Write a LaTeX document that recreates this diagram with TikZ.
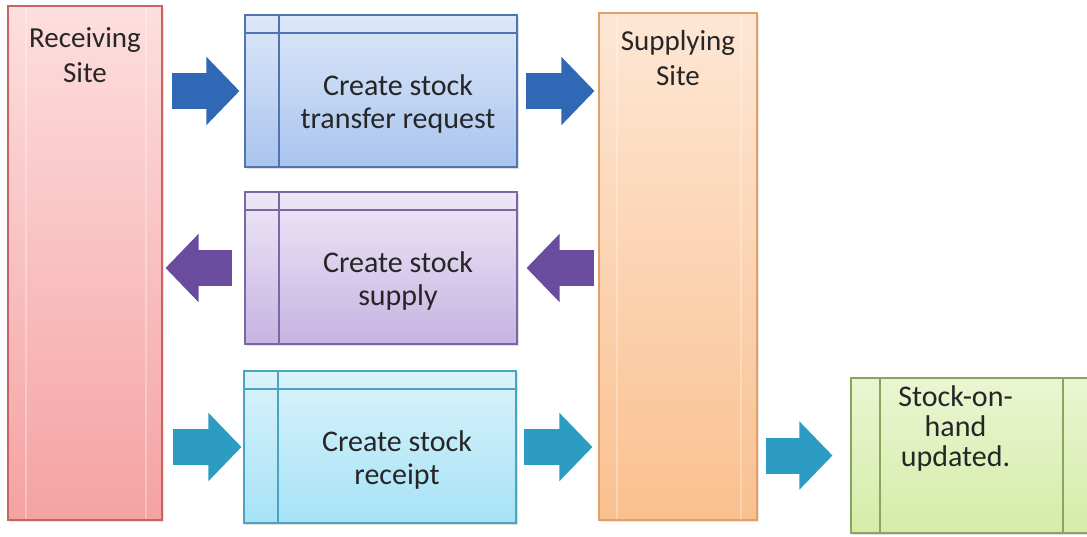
\documentclass[tikz,border=0pt]{standalone}
\usepackage{fontspec}
\setmainfont{Carlito}
\usepackage{xcolor}
\usetikzlibrary{arrows.meta,shadows,calc}

\definecolor{recvtop}{HTML}{FDDEDE}
\definecolor{recvbot}{HTML}{F5A2A2}
\definecolor{recvline}{HTML}{C86464}
\definecolor{supptop}{HTML}{FDE7D5}
\definecolor{suppbot}{HTML}{FAC08F}
\definecolor{suppline}{HTML}{E2A068}
\definecolor{reqtop}{HTML}{DDE8F9}
\definecolor{reqbot}{HTML}{A9C4EE}
\definecolor{reqline}{HTML}{5074B2}
\definecolor{issuetop}{HTML}{EEE7F7}
\definecolor{issuebot}{HTML}{C6B4E2}
\definecolor{issueline}{HTML}{7A68A4}
\definecolor{rcpttop}{HTML}{DAF3FB}
\definecolor{rcptbot}{HTML}{A6E2F6}
\definecolor{rcptline}{HTML}{4BA4BD}
\definecolor{sohtop}{HTML}{EAF6D2}
\definecolor{sohbot}{HTML}{D5ECA8}
\definecolor{sohline}{HTML}{8AA65E}
\definecolor{flowblue}{HTML}{3068B5}
\definecolor{flowpurple}{HTML}{6A4C9E}
\definecolor{flowcyan}{HTML}{2C9CC2}

\tikzset{
  site box/.style n args={3}{
    rectangle,
    line width=0.6pt,
    draw=#1,
    top color=#2,
    bottom color=#3,
    drop shadow={shadow xshift=0.8pt, shadow yshift=-0.8pt, opacity=0.2},
    path picture={
      \draw[white, opacity=0.3]
        ([xshift=9pt]path picture bounding box.north west) --
        ([xshift=9pt]path picture bounding box.south west);
      \draw[white, opacity=0.3]
        ([xshift=-8pt]path picture bounding box.north east) --
        ([xshift=-8pt]path picture bounding box.south east);
    },
  },
  task box/.style n args={3}{
    rectangle,
    minimum width=136pt,
    minimum height=76pt,
    line width=0.6pt,
    draw=#1,
    top color=#2,
    bottom color=#3,
    drop shadow={shadow xshift=0.8pt, shadow yshift=-0.8pt, opacity=0.25},
    path picture={
      \draw[#1, line width=0.6pt]
        ([yshift=-9pt]path picture bounding box.north west) --
        ([yshift=-9pt]path picture bounding box.north east);
      \draw[#1, line width=0.6pt]
        ([xshift=17pt]path picture bounding box.north west) --
        ([xshift=17pt]path picture bounding box.south west);
    },
  },
  result box/.style n args={3}{
    rectangle,
    minimum width=120.5pt,
    minimum height=77.5pt,
    line width=0.6pt,
    draw=#1,
    top color=#2,
    bottom color=#3,
    drop shadow={shadow xshift=0.8pt, shadow yshift=-0.8pt, opacity=0.25},
    path picture={
      \draw[#1, line width=0.6pt]
        ([xshift=14.5pt]path picture bounding box.north west) --
        ([xshift=14.5pt]path picture bounding box.south west);
      \draw[#1, line width=0.6pt]
        ([xshift=-14.5pt]path picture bounding box.north east) --
        ([xshift=-14.5pt]path picture bounding box.south east);
    },
  },
  site label/.style={
    font=\fontsize{14.5}{17.5}\selectfont,
    align=center,
    text=black!85,
    anchor=north,
    yshift=-5.5pt,
  },
  task label/.style={
    font=\fontsize{15}{16.5}\selectfont,
    align=center,
    text=black!85,
    xshift=8.5pt,
    yshift=-6.5pt,
  },
  flow arrow/.style={
    draw=#1,
    line width=18pt,
    -{Triangle[length=16.5pt, width=34pt, line width=1pt]},
  },
}

\begin{document}
\begin{tikzpicture}[x=0.5pt, y=-0.5pt]
  \useasboundingbox (0,0) rectangle (1087,536);
  \clip (0,0) rectangle (1087,536);

  \node[site box={recvline}{recvtop}{recvbot}, minimum width=77pt, minimum height=257pt,
        label={[site label, yshift=-2pt]north:Receiving\\Site}] (recv) at (85,263) {};
  \node[site box={suppline}{supptop}{suppbot}, minimum width=79pt, minimum height=253.5pt,
        label={[site label]north:Supplying\\Site}] (supp) at (678,266.5) {};

  \node[task box={reqline}{reqtop}{reqbot},
        label={[task label]center:Create stock\\transfer request}] (req) at (381,91) {};
  \node[task box={issueline}{issuetop}{issuebot},
        label={[task label]center:Create stock\\supply}] (issue) at (381,268) {};
  \node[task box={rcptline}{rcpttop}{rcptbot},
        label={[task label]center:Create stock\\receipt}] (rcpt) at (380,447) {};

  \node[result box={sohline}{sohtop}{sohbot},
        label={[task label, font=\fontsize{15}{15}\selectfont, xshift=-16.5pt, yshift=20pt]center:Stock-on-\\hand\\updated.}] (soh) at (971.5,455.5) {};

  \draw[flow arrow=flowblue, shorten <=4.5pt, shorten >=2.5pt] (recv.east |- req.west) -- (req.west);
  \draw[flow arrow=flowblue, shorten <=4pt, shorten >=2pt] (req.east) -- (supp.west |- req.east);
  \draw[flow arrow=flowpurple, shorten <=2pt, shorten >=4.5pt] (supp.west |- issue.east) -- (issue.east);
  \draw[flow arrow=flowpurple, shorten <=6pt, shorten >=1.5pt] (issue.west) -- (recv.east |- issue.west);
  \draw[flow arrow=flowcyan, shorten <=5pt, shorten >=1pt] (recv.east |- rcpt.west) -- (rcpt.west);
  \draw[flow arrow=flowcyan, shorten <=3.5pt, shorten >=3pt] (rcpt.east) -- (supp.west |- rcpt.east);
  \draw[flow arrow=flowcyan, shorten <=4pt, shorten >=9pt] (supp.east |- soh.west) -- (soh.west);
\end{tikzpicture}
\end{document}
